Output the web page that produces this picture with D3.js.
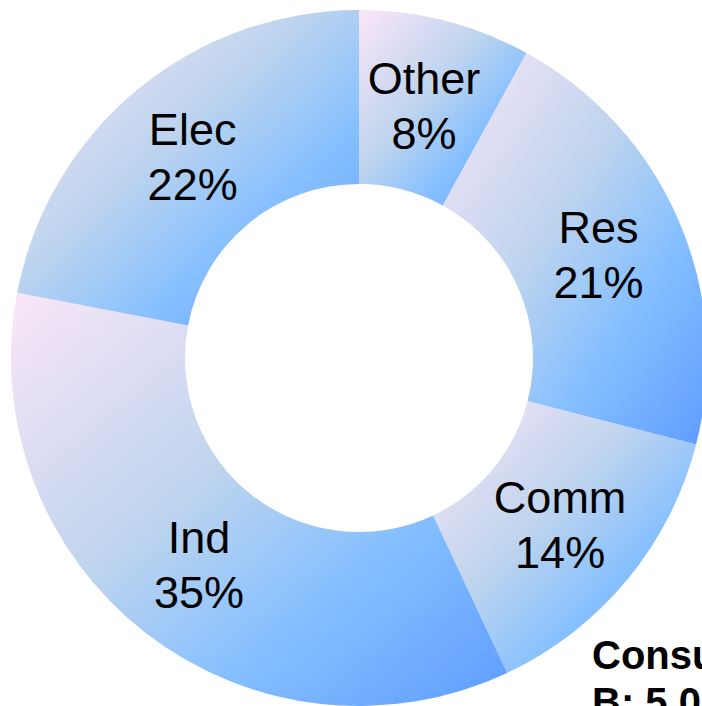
<!DOCTYPE html>
<html>
<head>
<meta charset="utf-8">
<script src="https://cdn.jsdelivr.net/npm/d3@7.9.0/dist/d3.min.js"></script>
<style>
  html, body { margin: 0; padding: 0; background: #fff; overflow: hidden; }
  svg { display: block; }
</style>
</head>
<body>
<svg width="702" height="706"></svg>
<script>
// sectors, clockwise from 12 o'clock
const labels = ['Other', 'Res', 'Comm', 'Ind', 'Elec'];
const values = [8, 21, 14, 35, 22];
const noteLines = ['Consumption', 'B: 5.0'];

const svg = d3.select('svg');
const cx = 359, cy = 358;

let arcGen = d3.arc().innerRadius(174).outerRadius(348);
let pie = d3.pie().sort(null).value(d => d.value);
let data = labels.map((l, i) => ({ label: l, value: values[i] }));
let arcData = pie(data);

// diagonal gradient per slice, like the office preset fill
let defs = svg.append('defs');
arcData.forEach((d, i) => {
  let g = defs.append('linearGradient')
    .attr('id', 'grad' + i)
    .attr('x1', 0).attr('y1', 0).attr('x2', 1).attr('y2', 1);
  g.append('stop').attr('offset', '0%').attr('stop-color', '#fbe6f8');
  g.append('stop').attr('offset', '42%').attr('stop-color', '#bed4ee');
  g.append('stop').attr('offset', '68%').attr('stop-color', '#86c0ff');
  g.append('stop').attr('offset', '100%').attr('stop-color', '#5e9cff');
});

let chart = svg.append('g').attr('transform', `translate(${cx},${cy})`);

chart.selectAll('path')
  .data(arcData)
  .join('path')
  .attr('d', arcGen)
  .attr('fill', (d, i) => `url(#grad${i})`);

let lbl = chart.selectAll('text.lbl')
  .data(arcData)
  .join('text')
  .attr('class', 'lbl')
  .attr('text-anchor', 'middle')
  .attr('font-family', 'Liberation Sans, Arial, sans-serif')
  .attr('font-size', 45)
  .attr('fill', '#000')
  .attr('transform', d => {
    let [x, y] = arcGen.centroid(d);
    return `translate(${x},${y})`;
  });

lbl.append('tspan').attr('x', 0).attr('y', -11.5).text(d => d.data.label);
lbl.append('tspan').attr('x', 0).attr('y', 43.5).text(d => d.data.value + '%');

// note at bottom right (runs off the edge)
svg.append('text')
  .attr('font-family', 'Liberation Sans, Arial, sans-serif')
  .attr('font-size', 40)
  .attr('font-weight', 'bold')
  .attr('fill', '#000')
  .selectAll('tspan')
  .data(noteLines)
  .join('tspan')
  .attr('x', 592)
  .attr('y', (d, i) => 669 + i * 47)
  .text(d => d);
</script>
</body>
</html>
